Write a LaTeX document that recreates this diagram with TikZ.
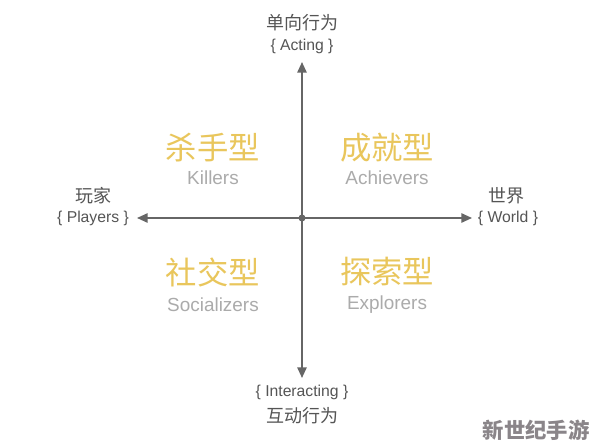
\documentclass[tikz,border=0pt]{standalone}
\usepackage{fontspec}
\setmainfont{Liberation Sans}
\newfontfamily\cjk{Noto Sans CJK SC}
\usetikzlibrary{arrows.meta}
\definecolor{axisgray}{HTML}{666666}
\definecolor{labgray}{HTML}{555555}
\definecolor{quadyellow}{HTML}{E9C65C}
\definecolor{quadgray}{HTML}{ABABAB}
\definecolor{wmgray}{HTML}{8A8589}
\begin{document}
\begin{tikzpicture}[x=0.75pt,y=-0.75pt,
  axis/.style={draw=axisgray,line width=1.3pt,-{Triangle[length=8pt,width=7pt]}},
  axlab/.style={text=labgray,font=\cjk\fontsize{13.5}{15}\selectfont,inner sep=0pt},
  axen/.style={text=labgray,font=\fontsize{11.8}{13}\selectfont,inner sep=0pt},
  quadcn/.style={text=quadyellow,font=\cjk\fontsize{23.5}{25}\selectfont,inner sep=0pt},
  quaden/.style={text=quadgray,font=\fontsize{14.2}{16}\selectfont,inner sep=0pt},
  wm/.style={text=wmgray,font=\cjk\bfseries\fontsize{16}{18}\selectfont,inner sep=0pt}]
\useasboundingbox[fill=white] (0,0) rectangle (594,445);
\coordinate (o) at (302,218);
\coordinate (top) at (302,62);
\coordinate (bot) at (302,378);
\coordinate (left) at (137,218);
\coordinate (right) at (472,218);
\draw[axis] (o) -- (top);
\draw[axis] (o) -- (bot);
\draw[axis] (o) -- (left);
\draw[axis] (o) -- (right);
\fill[axisgray] (o) circle (3.5);
\node[axlab] (acn) at (302,23) {单向行为};
\node[axen] (aen) at (302,46) {\{ Acting \}};
\node[axlab] (pcn) at (93,196) {玩家};
\node[axen] (pen) at (93,218) {\{ Players \}};
\node[axlab] (wcn) at (506,196) {世界};
\node[axen] (wen) at (508,218) {\{ World \}};
\node[axen] (ien) at (302,392) {\{ Interacting \}};
\node[axlab] (icn) at (302,416) {互动行为};
\node[quadcn] (k1) at (213,148) {杀手型};
\node[quaden] (k2) at (213,178) {Killers};
\node[quadcn] (a1) at (387,148) {成就型};
\node[quaden] (a2) at (387,178) {Achievers};
\node[quadcn] (s1) at (213,272) {社交型};
\node[quaden] (s2) at (213,305) {Socializers};
\node[quadcn] (e1) at (387,272) {探索型};
\node[quaden] (e2) at (387,305) {Explorers};
\node[wm] (w) at (536,430) {新世纪手游};
\end{tikzpicture}
\end{document}
